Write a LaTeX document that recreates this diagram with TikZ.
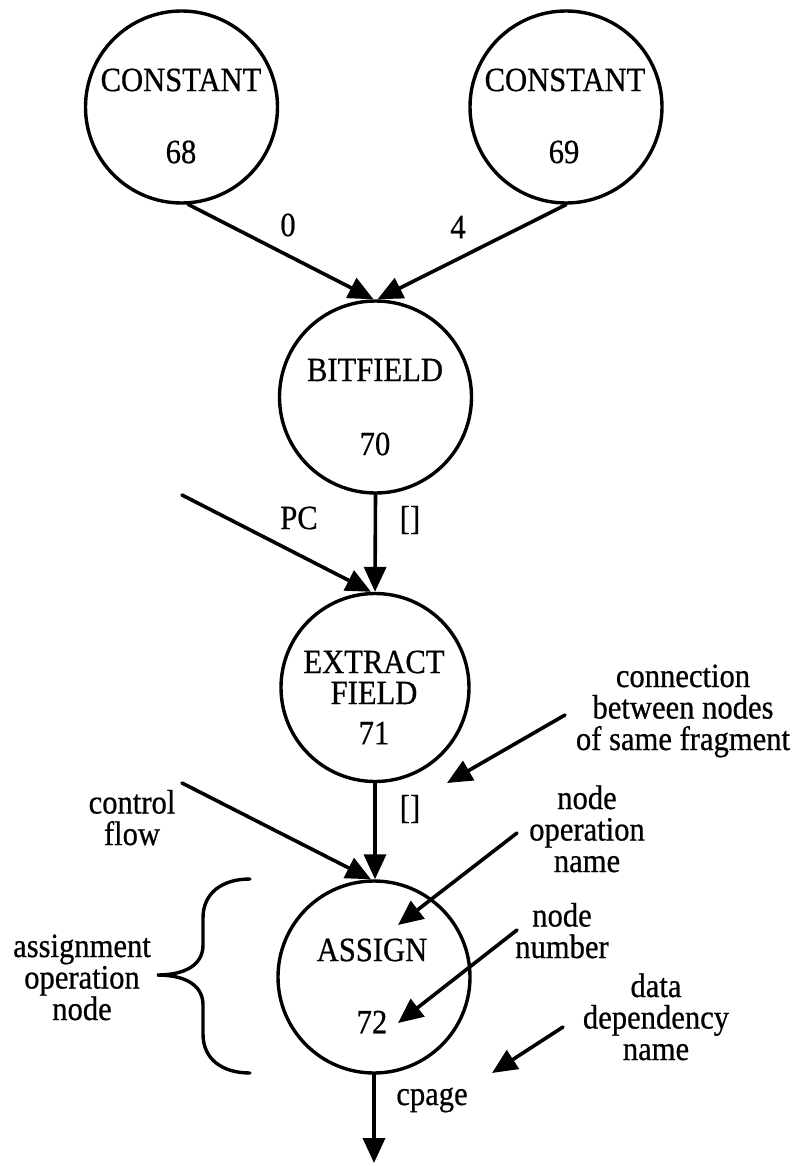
\documentclass[tikz,border=0pt]{standalone}
\usepackage{fontspec}
\setmainfont{Liberation Serif}[FakeStretch=0.9, FakeBold=0.6]
\usetikzlibrary{arrows.meta}
\begin{document}
\begin{tikzpicture}[x=1pt,y=-1pt,
  every node/.style={inner sep=0pt, outer sep=0pt, font=\fontsize{34}{31.5}\selectfont},
  opnode/.style={circle, draw, line width=3.4pt, outer sep=1.7pt, minimum size=#1},
  opnode/.default=192pt,
  lbl/.style={anchor=center},
  note/.style={align=center, anchor=base},
  flow/.style={line width=3.6pt, line cap=round, -{Triangle[length=25pt,width=22pt]}}
]
\useasboundingbox (0,0) rectangle (795,1166);

% operation nodes
\node[opnode] (n68) at (181.5,107) {};
\node[opnode] (n69) at (566,107) {};
\node[opnode] (n70) at (375.5,397) {};
\node[opnode=188pt] (n71) at (375,687.5) {};
\node[opnode] (n72) at (374,977) {};

% operation names and node numbers
\node[lbl] (t68a) at (181,80) {CONSTANT};
\node[lbl] (t68b) at (181,152) {68};
\node[lbl] (t69a) at (565,80) {CONSTANT};
\node[lbl] (t69b) at (564,152) {69};
\node[lbl] (t70a) at (375,370) {BITFIELD};
\node[lbl] (t70b) at (375,444) {70};
\node[lbl] (t71a) at (374,662) {EXTRACT};
\node[lbl] (t71b) at (374,693) {FIELD};
\node[lbl] (t71c) at (374,733) {71};
\node[lbl] (t72a) at (372,950) {ASSIGN};
\node[lbl] (t72b) at (372,1022) {72};

% free ends of connectors
\coordinate (pcin) at (182,495);
\coordinate (ctlin) at (182,783);
\coordinate (out) at (374,1163);

% data dependencies between nodes
\draw[flow] (n68.-86) -- ([xshift=-2pt]n70.north);
\draw[flow] (n69.south) -- ([xshift=2pt]n70.north);
\draw[flow] (n70.south) -- (n71.north);
\draw[flow] (pcin) -- ([xshift=-4pt]n71.north);
\draw[flow] (n71.south) -- ([xshift=1pt]n72.north);
\draw[flow] (ctlin) -- ([xshift=-3pt]n72.north);
\draw[flow] (n72.south) -- (out);

% dependency names
\node[lbl] (d0) at (288,225) {0};
\node[lbl] (d4) at (458,227) {4};
\node[lbl] (dpc) at (299,518) {PC};
\node[lbl] (db1) at (410,520) {[]};
\node[lbl] (db2) at (410,809) {[]};
\node[note] (dcp) at (432,1105) {cpage};

% explanatory notes (anchored at the baseline of their last line)
\node[note] (ctl) at (132,845) {control\\flow};
\node[note] (asg) at (82,1020) {assignment\\operation\\node};
\node[note] (conn) at (683,750) {connection\\between nodes\\of same fragment};
\node[note] (opn) at (587,872) {node\\operation\\name};
\node[note] (num) at (562,958) {node\\number};
\node[note] (dd) at (656,1060) {data\\dependency\\name};

% pointers from the notes
\coordinate (connA) at (565,715);
\coordinate (connB) at (447,783);
\coordinate (opnA) at (517,833);
\coordinate (opnB) at (398,925);
\coordinate (numA) at (517,930);
\coordinate (numB) at (398,1023);
\coordinate (ddA) at (563,1027);
\coordinate (ddB) at (492,1073);
\draw[flow] (connA) -- (connB);
\draw[flow] (opnA) -- (opnB);
\draw[flow] (numA) -- (numB);
\draw[flow] (ddA) -- (ddB);

% brace around the assignment node
\draw[line width=3.4pt, line cap=round]
  (250,879) .. controls (222,879) and (203,893) .. (203,918)
  -- (203,945) .. controls (203,965) and (185,975) .. (157,975)
  .. controls (185,975) and (203,985) .. (203,1005)
  -- (203,1034) .. controls (203,1059) and (222,1073) .. (250,1073);
\end{tikzpicture}
\end{document}
